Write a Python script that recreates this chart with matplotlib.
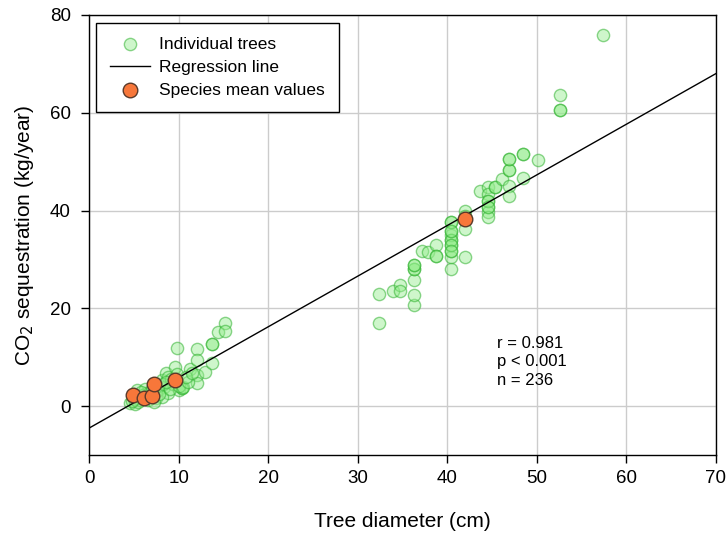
import numpy as np
import matplotlib
matplotlib.use("Agg")
import matplotlib.pyplot as plt

plt.rcParams['font.family'] = ['Liberation Sans', 'DejaVu Sans']

# individual trees: diameter (cm) and CO2 sequestration (kg/year)
tree_dia = [4.6, 5.1, 5.7, 6.6, 7.5, 6.4, 5.3, 6.2, 7.7, 8.1, 8.4, 8.8, 9.4, 10.1,
            10.4, 10.4, 8.6, 8.1, 8.8, 9.6, 9.8, 11.3, 12.0, 12.0, 12.0, 12.0, 12.9,
            13.7, 13.7, 13.7, 14.4, 15.2, 15.2, 5.0, 5.5, 6.0, 6.8, 7.2, 7.8, 8.3,
            9.0, 9.2, 10.0, 10.5, 11.0, 6.5, 7.0, 5.8, 4.8, 9.8, 10.8, 11.5, 8.6,
            32.4, 32.4, 33.9, 34.7, 34.7, 36.3, 36.3, 36.3, 36.3, 36.3, 36.3, 36.3,
            37.2, 37.9, 38.7, 38.7, 38.7, 40.4, 40.4, 40.4, 40.4, 40.4, 40.4, 40.4,
            40.4, 40.4, 40.4, 40.4, 40.4, 40.4, 42.0, 42.0, 42.0, 42.0, 43.6, 44.5,
            44.5, 44.5, 44.5, 44.5, 44.5, 44.5, 44.5, 45.3, 45.3, 46.1, 46.9, 46.9,
            46.9, 46.9, 46.9, 48.5, 48.5, 48.5, 50.1, 46.9,
            52.6, 52.6, 52.6, 57.4]
tree_co2 = [0.7, 0.4, 1.2, 1.2, 1.6, 2.6, 3.3, 3.6, 3.3, 5.3, 3.9, 2.6, 4.6, 3.3,
            3.8, 3.8, 6.7, 1.9, 6.0, 8.0, 11.8, 7.5, 11.6, 9.5, 6.3, 4.8, 7.0,
            12.8, 12.8, 8.8, 15.2, 17.0, 15.4, 1.5, 0.8, 2.2, 2.9, 0.9, 2.4, 4.5,
            3.6, 5.5, 4.2, 4.0, 5.0, 1.8, 3.5, 2.8, 1.0, 6.5, 6.0, 6.8, 5.0,
            17.0, 22.9, 23.6, 24.7, 23.5, 20.7, 22.7, 25.7, 28.1, 28.1, 28.9, 28.9,
            31.8, 31.5, 32.9, 30.8, 30.8, 28.1, 30.5, 31.8, 32.9, 33.9, 34.9, 35.9,
            37.6, 37.6, 33.9, 32.9, 35.9, 31.8, 40.0, 36.3, 30.4, 38.9, 44.1, 44.8,
            43.4, 42.0, 40.7, 39.7, 38.6, 42.0, 40.7, 44.9, 44.9, 46.5, 45.1, 48.2,
            48.2, 50.5, 50.5, 51.6, 51.6, 46.7, 50.4, 43.0,
            63.6, 60.6, 60.6, 75.9]

# species means
mean_dia = [4.9, 6.1, 7.0, 7.3, 9.6, 42.0]
mean_co2 = [2.2, 1.7, 2.1, 4.6, 5.4, 38.3]

# regression line
reg_intercept = -4.5
reg_slope = 1.036

stats_text = "r = 0.981\np < 0.001\nn = 236"

fig = plt.figure(figsize=(7.28, 5.35), dpi=100)
ax = fig.add_axes([0.1223, 0.1495, 0.8612, 0.8225])

ax.grid(True, color='#cccccc', linewidth=1.0, zorder=0)
ax.set_axisbelow(True)

ax.scatter(tree_dia, tree_co2, s=78, facecolor=(0.58, 0.93, 0.55, 0.45),
           edgecolor=(0.2, 0.7, 0.2, 0.55), linewidth=1.0, zorder=3,
           label='Individual trees')
xl = np.array([0, 70])
ax.plot(xl, reg_intercept + reg_slope * xl, color='black', linewidth=1.0,
        zorder=4, label='Regression line')
ax.scatter(mean_dia, mean_co2, s=110, facecolor='#f7773a', edgecolor='#5a3a2a',
           linewidth=1.0, zorder=5, label='Species mean values')

ax.set_xlim(0, 70)
ax.set_ylim(-10, 80)
ax.set_xticks(range(0, 71, 10))
ax.set_yticks(range(0, 81, 20))
ax.tick_params(direction='out', length=6, width=1, labelsize=13.5)
ax.tick_params(axis='x', pad=5)
ax.tick_params(axis='y', pad=7)
for s in ax.spines.values():
    s.set_linewidth(1.0)

ax.set_xlabel('Tree diameter (cm)', fontsize=15, labelpad=18)
ax.set_ylabel('CO$_2$ sequestration (kg/year)', fontsize=15, labelpad=10)

ax.text(45.6, 14.4, stats_text, fontsize=12, va='top', ha='left',
        linespacing=1.3)

leg = ax.legend(loc='upper left', bbox_to_anchor=(0.011, 0.982), borderaxespad=0,
                fontsize=12.5, fancybox=False, edgecolor='black', framealpha=1,
                handletextpad=0.55, borderpad=0.8, labelspacing=0.45,
                handlelength=2.3)
leg.get_frame().set_linewidth(1.0)

fig.savefig('out.png', dpi=100)
